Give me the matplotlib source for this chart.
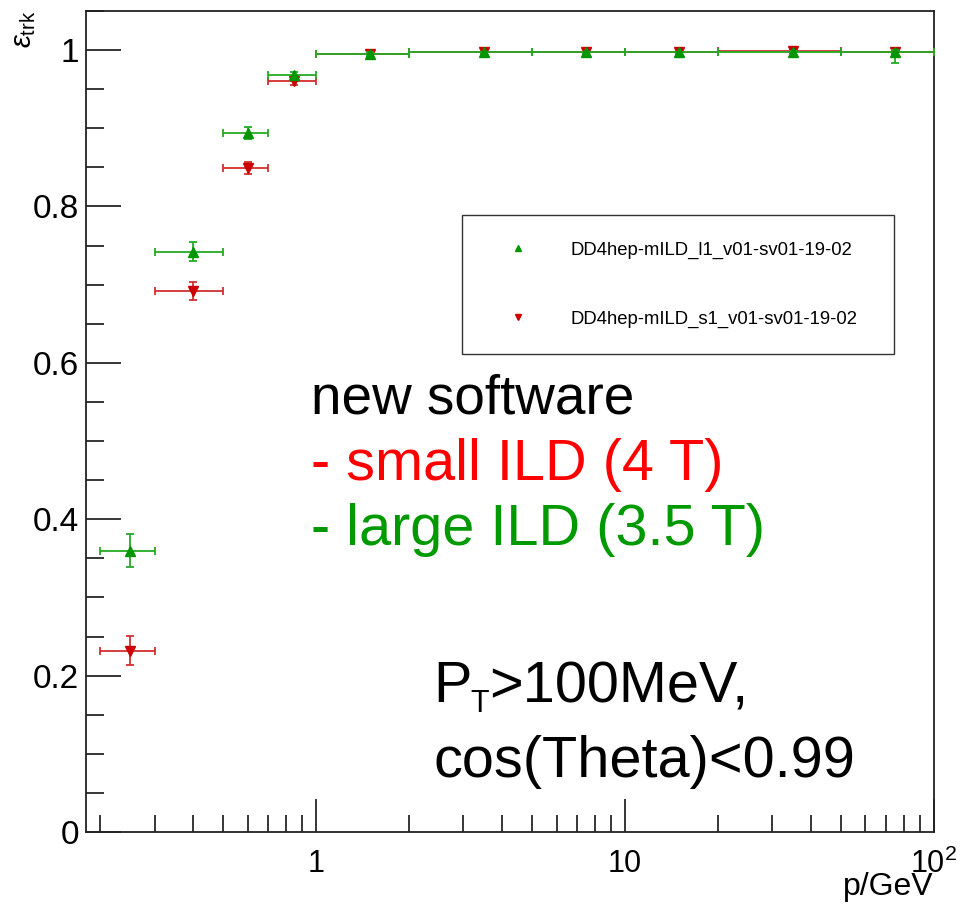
import matplotlib
matplotlib.use("Agg")
import matplotlib.pyplot as plt
from matplotlib.ticker import FixedLocator, MultipleLocator, NullFormatter, FixedFormatter
from matplotlib.lines import Line2D
import numpy as np

plt.rcParams['font.family'] = ['Liberation Sans', 'DejaVu Sans']
plt.rcParams['mathtext.fontset'] = 'custom'
plt.rcParams['mathtext.rm'] = 'Liberation Sans'
plt.rcParams['mathtext.it'] = 'Liberation Sans:italic'

# ---- data ----
p_lo = [0.2, 0.3, 0.5, 0.7, 1.0, 2.0, 5.0, 10.0, 20.0, 50.0]
p_hi = [0.3, 0.5, 0.7, 1.0, 2.0, 5.0, 10.0, 20.0, 50.0, 100.0]
p_center = [0.25, 0.4, 0.6, 0.85, 1.5, 3.5, 7.5, 15.0, 35.0, 75.0]

eff_large = [0.360, 0.742, 0.894, 0.968, 0.995, 0.997, 0.997, 0.997, 0.998, 0.997]
err_large_lo = [0.021, 0.012, 0.008, 0.005, 0.003, 0.002, 0.002, 0.002, 0.002, 0.014]
err_large_hi = [0.021, 0.012, 0.008, 0.004, 0.002, 0.001, 0.001, 0.001, 0.001, 0.003]

eff_small = [0.232, 0.692, 0.849, 0.960, 0.995, 0.997, 0.997, 0.997, 0.999, 0.997]
err_small_lo = [0.019, 0.011, 0.008, 0.005, 0.002, 0.001, 0.001, 0.001, 0.001, 0.002]
err_small_hi = [0.019, 0.011, 0.008, 0.004, 0.001, 0.001, 0.001, 0.001, 0.001, 0.001]

label_large = "DD4hep-mILD_l1_v01-sv01-19-02"
label_small = "DD4hep-mILD_s1_v01-sv01-19-02"

x_major = [1, 10, 100]
x_major_labels = ["1", "10", r"$\mathregular{10^{2}}$"]
y_major = [0, 0.2, 0.4, 0.6, 0.8, 1.0]
y_major_labels = ["0", "0.2", "0.4", "0.6", "0.8", "1"]

W, H = 961, 906
fig = plt.figure(figsize=(W / 100, H / 100), dpi=100)
ax = fig.add_axes([86 / W, 1 - 832 / H, (934 - 86) / W, (832 - 11) / H])

pc = np.array(p_center)
xerr = [pc - np.array(p_lo), np.array(p_hi) - pc]

red_m = '#cc0000'
red_l = '#d22f2f'
grn_m = '#009600'
grn_l = '#25aa25'

ax.errorbar(pc, eff_small, xerr=xerr, yerr=[err_small_lo, err_small_hi],
            fmt='v', color=red_m, ecolor=red_l, elinewidth=1.3, capsize=3,
            capthick=1.3, markersize=7, zorder=3)
ax.errorbar(pc, eff_large, xerr=xerr, yerr=[err_large_lo, err_large_hi],
            fmt='^', color=grn_m, ecolor=grn_l, elinewidth=1.3, capsize=3,
            capthick=1.3, markersize=7, zorder=4)

ax.set_xscale('log')
ax.set_xlim(0.18, 100)
ax.set_ylim(0, 1.05)

ax.xaxis.set_major_locator(FixedLocator(x_major))
ax.xaxis.set_major_formatter(FixedFormatter(x_major_labels))
minor = [m * d for d in (0.1, 1, 10) for m in range(2, 10)]
ax.xaxis.set_minor_locator(FixedLocator(minor))
ax.xaxis.set_minor_formatter(NullFormatter())

ax.yaxis.set_major_locator(FixedLocator(y_major))
ax.yaxis.set_major_formatter(FixedFormatter(y_major_labels))
ax.yaxis.set_minor_locator(MultipleLocator(0.05))

ax.tick_params(axis='both', which='both', direction='in', top=False, right=False,
               color='black', width=1.1)
ax.tick_params(axis='x', which='major', length=24, pad=12, labelsize=22)
ax.tick_params(axis='x', which='minor', length=12)
ax.tick_params(axis='y', which='major', length=25, pad=5, labelsize=24)
ax.tick_params(axis='y', which='minor', length=13)
for s in ax.spines.values():
    s.set_linewidth(1.3)
    s.set_color('#222222')

# axis titles
fig.text(24 / W, 1 - 11 / H, r'$\epsilon_{\mathrm{trk}}$', rotation=90,
         ha='center', va='top', fontsize=21)
fig.text(934 / W, 1 - 895 / H, 'p/GeV', ha='right', va='baseline', fontsize=23)

# legend
handles = [Line2D([], [], marker='^', color=grn_m, linestyle='none', markersize=5),
           Line2D([], [], marker='v', color=red_m, linestyle='none', markersize=5)]
leg = fig.legend(handles, [label_large, label_small],
                 loc='upper left', mode='expand',
                 bbox_to_anchor=(462 / W, 1 - 352 / H, (894 - 462) / W, (352 - 215) / H),
                 bbox_transform=fig.transFigure, borderaxespad=0,
                 fontsize=13.3, frameon=True, fancybox=False, shadow=False,
                 borderpad=1.45, handlelength=3.15, handletextpad=1.25,
                 labelspacing=2.78)
leg.get_frame().set_edgecolor('black')
leg.get_frame().set_linewidth(1.0)

# annotations
def ftext(x, y, s, **kw):
    fig.text(x / W, 1 - y / H, s, ha='left', va='baseline', **kw)

ftext(311, 413, 'new software', fontsize=39.5, color='black')
ftext(311, 480, '- small ILD (4 T)', fontsize=41.5, color='#ff0000')
ftext(311, 545, '- large ILD (3.5 T)', fontsize=41.5, color='#009900')
ftext(433, 702, 'P', fontsize=41.5, color='black')
ftext(470, 712, 'T', fontsize=22, color='black')
ftext(489, 702, '>100MeV,', fontsize=41.5, color='black')
ftext(433, 777, 'cos(Theta)<0.99', fontsize=41.5, color='black')

fig.savefig('out.png', dpi=100)
